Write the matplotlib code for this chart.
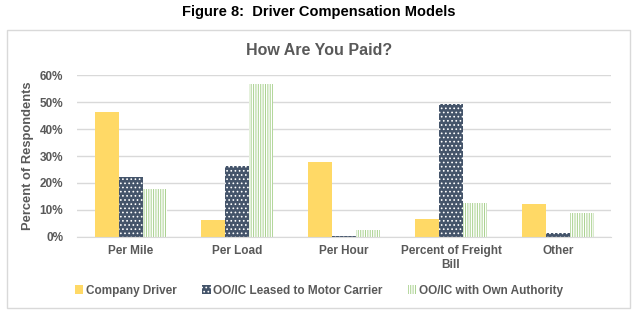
import numpy as np
import matplotlib
matplotlib.use('Agg')
import matplotlib.pyplot as plt
from matplotlib.patches import Rectangle

plt.rcParams['font.family'] = ['Liberation Sans', 'DejaVu Sans']
plt.rcParams['hatch.linewidth'] = 0.7

# Data
categories = ['Per Mile', 'Per Load', 'Per Hour', 'Percent of Freight\nBill', 'Other']
company_driver = [46.4, 6.2, 27.7, 6.6, 12.3]
leased = [22.3, 26.2, 0.3, 49.2, 1.5]
own_authority = [17.8, 56.8, 2.5, 12.5, 9.0]
series_names = ['Company Driver', 'OO/IC Leased to Motor Carrier', 'OO/IC with Own Authority']

GRAY = '#595959'
YELLOW = '#FFD966'
NAVY = '#44546A'
GREEN = '#A9D18E'

fig = plt.figure(figsize=(6.38, 3.24), dpi=100)

# outer chart box
fig.patches.append(Rectangle((0.011, 0.049), 0.976, 0.859, transform=fig.transFigure,
                             fill=False, edgecolor='#D9D9D9', lw=1.0))

fig.text(0.5, 0.962, 'Figure 8:  Driver Compensation Models', ha='center', va='center',
         fontsize=10.5, fontweight='bold', color='black')
fig.text(0.5, 0.845, 'How Are You Paid?', ha='center', va='center',
         fontsize=11.5, fontweight='bold', color=GRAY)

ax = fig.add_axes([0.121, 0.269, 0.837, 0.499])

x = np.arange(len(categories))
w = 0.225
ax.bar(x - w, company_driver, w, color=YELLOW, lw=0, label=series_names[0])
ax.bar(x, leased, w, facecolor=NAVY, edgecolor='white', hatch='....', lw=0, label=series_names[1])
ax.bar(x + w, own_authority, w, facecolor='white', edgecolor=GREEN, hatch='|' * 7, lw=0,
       label=series_names[2])

ax.set_ylim(0, 60)
ax.set_xlim(-0.5, len(categories) - 0.5)
ax.set_yticks(np.arange(0, 61, 10))
ax.set_yticklabels([f'{v}%' for v in range(0, 61, 10)])
ax.set_xticks(x)
ax.set_xticklabels(categories)
ax.grid(axis='y', color='#D9D9D9', lw=1.0)
ax.set_axisbelow(True)
for s in ['top', 'right', 'left']:
    ax.spines[s].set_visible(False)
ax.spines['bottom'].set_color('#D9D9D9')
ax.tick_params(length=0, labelsize=8.5, labelcolor=GRAY)
ax.tick_params(axis='x', pad=6)
ax.tick_params(axis='y', pad=10)
for lbl in ax.get_xticklabels() + ax.get_yticklabels():
    lbl.set_fontweight('bold')
ax.set_ylabel('Percent of Respondents', fontsize=9.3, fontweight='bold', color=GRAY, labelpad=4)

leg = fig.legend(loc='center', bbox_to_anchor=(0.5, 0.103), ncol=3, frameon=False,
                 fontsize=8.5, handlelength=0.7, handleheight=0.7, handletextpad=0.2,
                 columnspacing=2.2)
for t in leg.get_texts():
    t.set_color(GRAY)
    t.set_fontweight('bold')

fig.savefig('out.png', dpi=100)
